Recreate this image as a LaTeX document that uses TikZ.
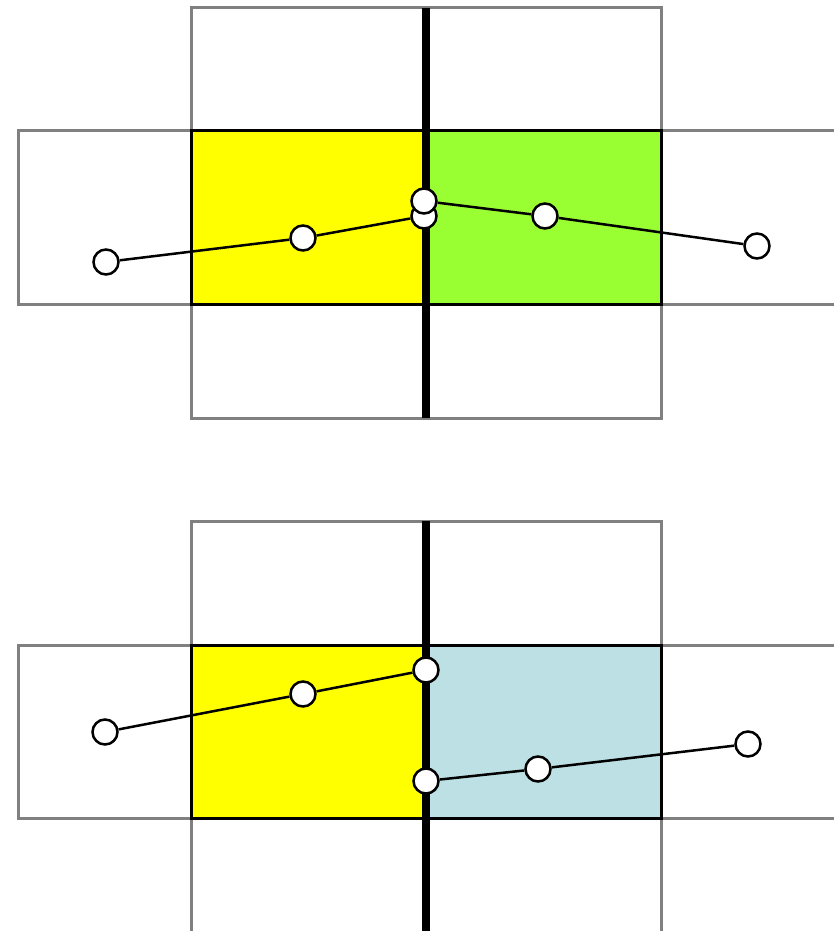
\documentclass[tikz,border=0pt]{standalone}
\definecolor{cellyellow}{RGB}{255,255,0}
\definecolor{cellgreen}{RGB}{153,255,51}
\definecolor{cellblue}{RGB}{188,224,227}
\definecolor{cellgray}{RGB}{128,128,128}
\tikzset{
  gridline/.style={draw=cellgray, line width=3pt},
  cellbox/.style={draw=black, line width=3pt},
  wall/.style={line width=8pt, black},
  link/.style={line width=2.5pt, black},
  dot/.style={circle, draw=black, fill=white, line width=2.5pt, minimum size=25pt, inner sep=0pt}
}
\begin{document}
\begin{tikzpicture}[x=1pt, y=-1pt]
\useasboundingbox (0,0) rectangle (834,931);
\clip (0,0) rectangle (834,931);

% ---------- upper panel ----------
\draw[gridline] (191,8) rectangle (661,131);
\draw[gridline] (191,304) rectangle (661,418);
\draw[gridline] (18,131) rectangle (860,304);
\draw[cellbox, fill=cellyellow] (191,131) rectangle (426,304);
\draw[cellbox, fill=cellgreen] (426,131) rectangle (661,304);
\draw[wall] (426,8) -- (426,418);

\node[dot] (a1) at (106,262) {};
\node[dot] (a2) at (303,238) {};
\node[dot] (a3) at (424,216) {};
\draw[link] (a1) -- (a2) -- (a3);
\node[dot] (b1) at (424,201) {};
\node[dot] (b2) at (545,216) {};
\node[dot] (b3) at (757,246) {};
\draw[link] (b1) -- (b2) -- (b3);

% ---------- lower panel ----------
\draw[gridline] (191,521) rectangle (661,645);
\draw[gridline] (191,818) rectangle (661,950);
\draw[gridline] (18,645) rectangle (860,818);
\draw[cellbox, fill=cellyellow] (191,645) rectangle (426,818);
\draw[cellbox, fill=cellblue] (426,645) rectangle (661,818);
\draw[wall] (426,521) -- (426,950);

\node[dot] (c1) at (105,732) {};
\node[dot] (c2) at (303,694) {};
\node[dot] (c3) at (426,670) {};
\draw[link] (c1) -- (c2) -- (c3);
\node[dot] (d1) at (426,781) {};
\node[dot] (d2) at (538,769) {};
\node[dot] (d3) at (748,744) {};
\draw[link] (d1) -- (d2) -- (d3);
\end{tikzpicture}
\end{document}
